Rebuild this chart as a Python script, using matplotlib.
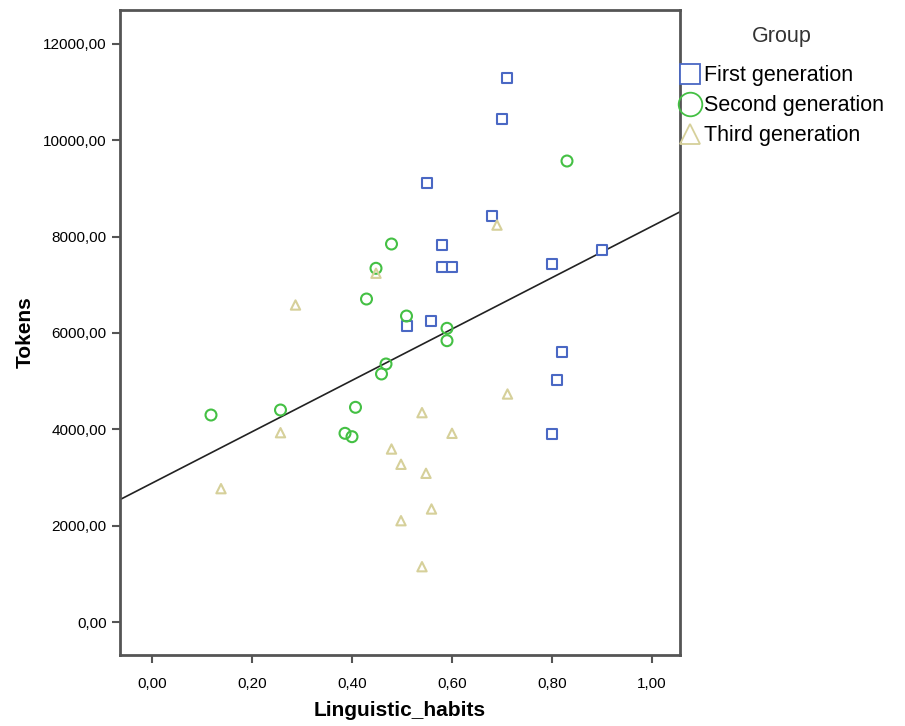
import numpy as np
import matplotlib.pyplot as plt
from matplotlib.ticker import FuncFormatter
from matplotlib.lines import Line2D

plt.rcParams['font.family'] = ['Liberation Sans', 'DejaVu Sans']

# First generation
first_x = [0.709, 0.700, 0.549, 0.679, 0.579, 0.579, 0.599, 0.800, 0.900, 0.557, 0.509, 0.820, 0.809, 0.800]
first_y = [11300, 10440, 9120, 8435, 7827, 7363, 7363, 7425, 7722, 6255, 6145, 5612, 5024, 3896]

# Second generation
second_x = [0.830, 0.479, 0.448, 0.429, 0.509, 0.590, 0.590, 0.468, 0.459, 0.118, 0.257, 0.407, 0.386, 0.400]
second_y = [9570, 7847, 7343, 6705, 6352, 6097, 5840, 5356, 5149, 4297, 4401, 4457, 3917, 3847]

# Third generation
third_x = [0.690, 0.448, 0.287, 0.257, 0.540, 0.711, 0.600, 0.479, 0.498, 0.548, 0.138, 0.559, 0.498, 0.540]
third_y = [8240, 7240, 6581, 3930, 4346, 4733, 3917, 3591, 3274, 3087, 2768, 2346, 2103, 1148]

col_first = '#4a68c4'
col_second = '#44c044'
col_third = '#d6d09a'

fig = plt.figure(figsize=(9.05, 7.26), dpi=100)
ax = fig.add_axes([120/905, 71/726, 560/905, 645/726])

ax.scatter(first_x, first_y, marker='s', s=55, facecolors='white', edgecolors=col_first, linewidths=1.5, zorder=3)
ax.scatter(second_x, second_y, marker='o', s=62, facecolors='none', edgecolors=col_second, linewidths=1.5, zorder=3)
ax.scatter(third_x, third_y, marker='^', s=45, facecolors='none', edgecolors=col_third, linewidths=1.5, zorder=3)

# fit line over all points
all_x = np.array(first_x + second_x + third_x)
all_y = np.array(first_y + second_y + third_y)
slope, icpt = np.polyfit(all_x, all_y, 1)
xl = np.array([-0.064, 1.056])
ax.plot(xl, icpt + slope * xl, color='#222222', lw=1.2, zorder=2)

ax.set_xlim(-0.064, 1.056)
ax.set_ylim(-685, 12705)
ax.set_xticks([0, 0.2, 0.4, 0.6, 0.8, 1.0])
ax.set_yticks(np.arange(0, 12001, 2000))
fmt = FuncFormatter(lambda v, p: ('%.2f' % v).replace('.', ','))
ax.xaxis.set_major_formatter(fmt)
ax.yaxis.set_major_formatter(fmt)
ax.tick_params(labelsize=11, length=6, width=1.5, color='#555555', direction='out')
ax.tick_params(axis='x', pad=10)
for s in ax.spines.values():
    s.set_color('#555555')
    s.set_linewidth(2)

ax.set_xlabel('Linguistic_habits', fontsize=15, fontweight='bold', labelpad=7)
ax.set_ylabel('Tokens', fontsize=15, fontweight='bold', labelpad=6)

handles = [
    Line2D([], [], marker='s', ls='none', markersize=15, markerfacecolor='white', markeredgecolor=col_first, markeredgewidth=1.3),
    Line2D([], [], marker='o', ls='none', markersize=17, markerfacecolor='none', markeredgecolor=col_second, markeredgewidth=1.3),
    Line2D([], [], marker='^', ls='none', markersize=15, markerfacecolor='none', markeredgecolor=col_third, markeredgewidth=1.3),
]
leg = fig.legend(handles, ['First generation', 'Second generation', 'Third generation'],
                 title='Group', loc='upper left', bbox_to_anchor=(680/905, 1 - 26/726),
                 frameon=False, fontsize=15.5, title_fontsize=15.5, handlelength=0.95,
                 handletextpad=0.15, labelspacing=0.42, borderpad=0, borderaxespad=0)
leg._legend_box.align = 'center'
leg._legend_box.sep = 13
leg.get_title().set_color('#333333')

fig.savefig('out.png', dpi=100)
